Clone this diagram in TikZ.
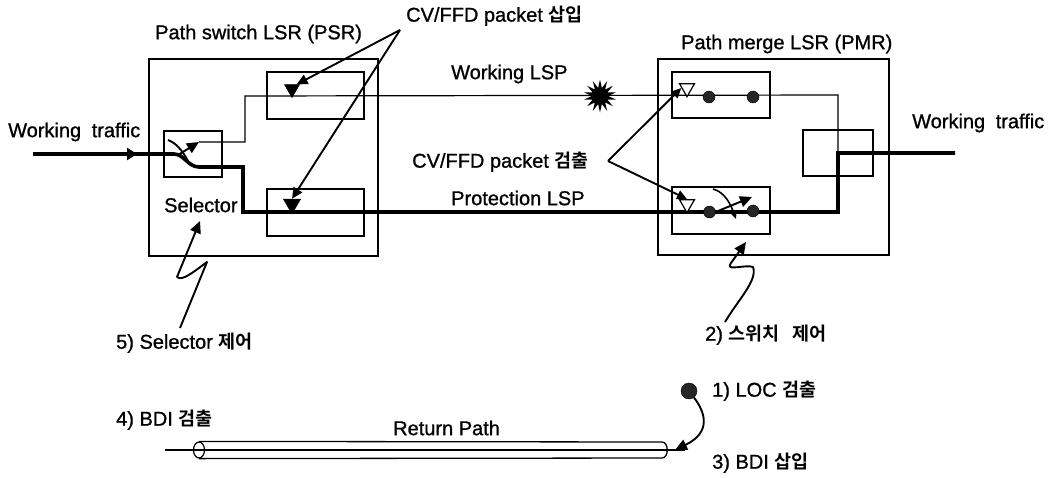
\documentclass[tikz,border=0pt]{standalone}
\usepackage{fontspec}
\setmainfont{Liberation Sans}[RawFeature={embolden=1.0}]
\newfontfamily\krfont{Noto Sans CJK KR}[BoldFont={* Bold}]
\usetikzlibrary{arrows.meta,shapes.geometric,shapes.misc,calc}
\tikzset{
  boxn/.style={draw=black,line width=1.3pt,inner sep=0pt,fill=none},
  lbl/.style={inner sep=0pt,font=\fontsize{20}{24}\selectfont,text=black},
  thinw/.style={line width=1.2pt},
  thickw/.style={line width=3.6pt,line join=miter},
  ptrs/.style={line width=1.9pt,-{Triangle[length=12pt,width=11pt]}},
  dotn/.style={circle,fill=black!85,draw=black,inner sep=0pt,minimum size=12pt},
  trishape/.style={isosceles triangle,isosceles triangle apex angle=60,shape border rotate=-90,draw=black,inner sep=0pt,minimum height=13pt,minimum width=14pt},
}
\newcommand{\kr}[1]{{\krfont\fontsize{18.5}{22}\selectfont\bfseries #1}}
\begin{document}
\begin{tikzpicture}[x=1pt,y=-1pt]
\useasboundingbox (0,0) rectangle (1057,477);
% boxes
\node[boxn,minimum width=229pt,minimum height=197pt] (psr) at (263.5,157.5) {};
\node[boxn,minimum width=97pt,minimum height=47pt] (pu) at (315.5,95.5) {};
\node[boxn,minimum width=97pt,minimum height=47pt] (pl) at (315.5,212.5) {};
\node[boxn,minimum width=58pt,minimum height=46pt] (sel) at (193,154) {};
\node[boxn,minimum width=231pt,minimum height=196pt] (pmr) at (773.5,157) {};
\node[boxn,minimum width=98pt,minimum height=46pt] (mu) at (721,95) {};
\node[boxn,minimum width=98pt,minimum height=47pt] (ml) at (721,210.5) {};
\node[boxn,minimum width=70pt,minimum height=46pt] (mr) at (838,153) {};
% labels
\node[lbl,anchor=west] (tpsr) at (155,34) {Path switch LSR (PSR)};
\node[lbl,anchor=west] (tpmr) at (681,44) {Path merge LSR (PMR)};
\node[lbl,anchor=west] (tins) at (406,16) {CV/FFD packet \kr{삽입}};
\node[lbl,anchor=west] (tdet) at (412,162) {CV/FFD packet \kr{검출}};
\node[lbl,anchor=west] (twl) at (451,74) {Working LSP};
\node[lbl,anchor=west] (tpl) at (451,198) {Protection LSP};
\node[lbl,anchor=west] (twt1) at (8,132) {Working\hspace{5pt} traffic};
\node[lbl,anchor=west] (twt2) at (912,123) {Working\hspace{5pt} traffic};
\node[lbl,anchor=west] (tsel) at (164,205) {Selector};
\node[lbl,anchor=west] (t5) at (116,343) {5) Selector \kr{제어}};
\node[lbl,anchor=west] (t2) at (705,335) {2) \kr{스위치\ \ \ 제어}};
\node[lbl,anchor=west] (t1) at (712,391) {1) LOC \kr{검출}};
\node[lbl,anchor=west] (t4) at (116,420) {4) BDI \kr{검출}};
\node[lbl,anchor=west] (t3) at (712,463) {3) BDI \kr{삽입}};
\node[lbl,anchor=west] (tret) at (393,428) {Return Path};
% coordinates of line routes
\coordinate (in) at (33,154);
\coordinate (inm) at (174,154);
\coordinate (swb) at (199,167);
\coordinate (swt) at (199,142);
\coordinate (wa) at (245,142);
\coordinate (wb) at (245,96);
\coordinate (wc) at (838,95);
\coordinate (wd) at (838,153);
\coordinate (pa) at (243,167);
\coordinate (pb) at (243,212);
\coordinate (pc) at (838,212);
\coordinate (out) at (955,153);
\coordinate (insa) at (400,30);
\coordinate (deta) at (608,161);
% working path (thin)
\draw[thinw] (swt) -- (wa) -- (wb) -- (wc) -- (wd);
% protection path (thick)
\draw[thickw] (in) -- (inm) .. controls (184,154) and (188,167) .. (swb) -- (pa) -- (pb) -- (pc) -- (wd) -- (out);
\coordinate (inarr) at (137,154);
\draw[line width=3.6pt,-{Triangle[length=10pt,width=12pt]}] (in) -- (inarr);
% selector switch arrow
\coordinate (swc) at (168,140);
\coordinate (swd) at (188,161);
\coordinate (swe) at (178,155);
\draw[line width=1.9pt] (swc) .. controls (176,143) and (182,150) .. (swd);
\draw[line width=1.9pt,-{Triangle[length=12pt,width=11pt]}] (swe) -- (swt);
% filled triangles
\node[trishape,fill=black] (tru) at (292,89) {};
\node[trishape,fill=black,minimum height=15pt,minimum width=16pt] (trl) at (292,204) {};
% open triangles
\node[trishape,fill=white,line width=1.2pt] (oru) at (687,88) {};
\node[trishape,fill=white,line width=1.2pt] (orl) at (687,204) {};
% dots
\node[dotn] (d1) at (709,97) {};
\node[dotn] (d2) at (753,97) {};
\node[dotn] (d3) at (709.5,212) {};
\node[dotn] (d4) at (753,211) {};
% PMR switch arrows
\coordinate (sa) at (718,211);
\coordinate (sb) at (752,197);
\coordinate (sc) at (713,189);
\coordinate (sd) at (736,219);
\draw[line width=1.9pt,-{Triangle[length=12pt,width=11pt]}] (sa) -- (sb);
\draw[line width=1.6pt,-{Triangle[length=6pt,width=5pt]}] (sc) .. controls (725,192) and (731,205) .. (sd);
% break star
\node[star,star points=14,star point ratio=2,fill=black,inner sep=0pt,minimum size=33pt] (brk) at (600,96) {};
% pointers
\draw[line width=1.9pt,-{Triangle[length=11pt,width=10pt]}] (insa) -- (tru.north east);
\draw[line width=1.9pt,-{Triangle[length=11pt,width=10pt]}] (insa) -- (trl.north);
\draw[line width=1.9pt,-{Triangle[length=10pt,width=9pt]}] (deta) -- (oru.west);
\draw[line width=1.9pt,-{Triangle[length=10pt,width=9pt]}] (deta) -- (orl.north);
% selector control
\coordinate (s1) at (180,328);
\coordinate (s2) at (207,262);
\coordinate (s3) at (177,277);
\coordinate (s4) at (200,221);
\draw[ptrs,line join=round] (s1) -- (s2) .. controls (196,270) and (182,282) .. (s3) -- (s4);
% switch control
\coordinate (c1) at (725,322);
\coordinate (c2) at (753,267);
\coordinate (c3) at (731,263);
\coordinate (c4) at (746,242);
\draw[ptrs,line join=round] (c1) .. controls (738,300) and (758,280) .. (c2) .. controls (746,264) and (724,272) .. (c3) -- (c4);
% return path tube
\coordinate (ra) at (165,450);
\coordinate (rb) at (685,450);
\coordinate (rc) at (662,442);
\coordinate (rd) at (662,458);
\node[ellipse,draw=black,line width=1.2pt,inner sep=0pt,minimum width=11pt,minimum height=16pt] (tl) at (199,450) {};
\node[dotn,minimum size=16pt] (d5) at (689,391) {};
\draw[line width=1.2pt] (ra) -- (rb);
\draw[line width=1.3pt] (tl.north) -- (rc) .. controls (669,442) and (669,458) .. (rd) -- (tl.south);
\coordinate (re) at (675,450);
\draw[line width=1.9pt,-{Triangle[length=12pt,width=11pt]}] (d5) .. controls (705,412) and (712,432) .. (re);
\end{tikzpicture}
\end{document}
